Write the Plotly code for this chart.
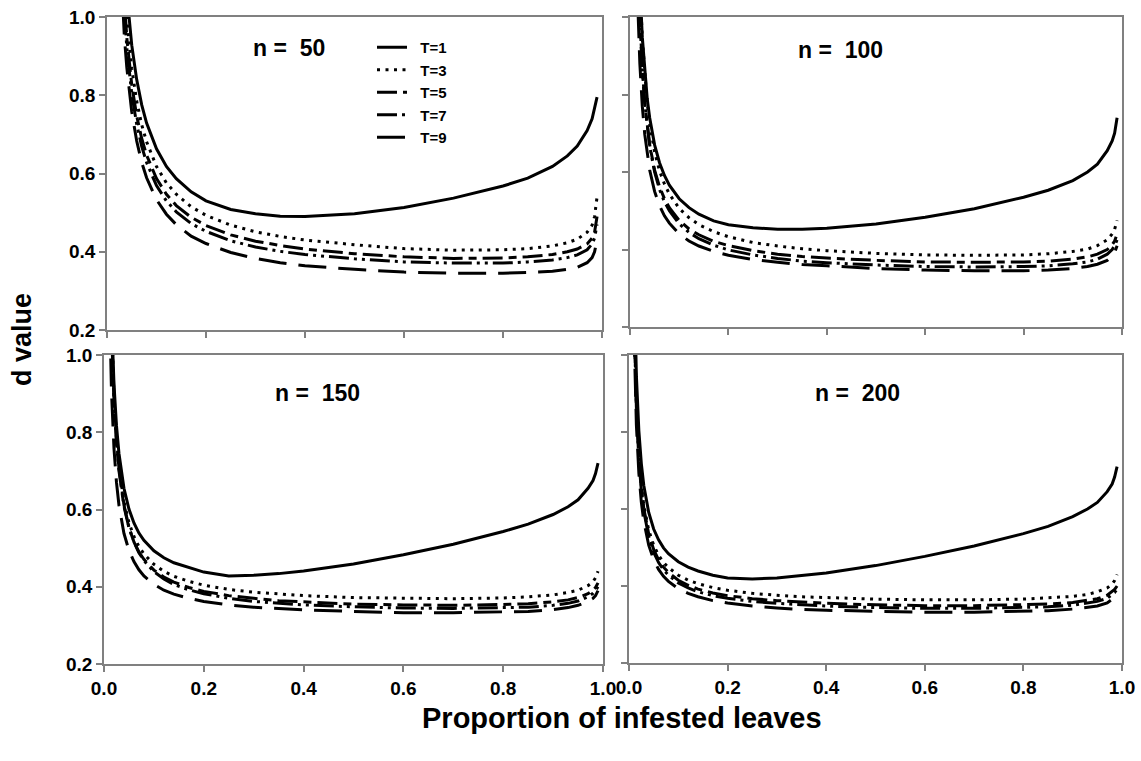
import plotly.graph_objects as go

# ---------------- data ----------------
p = [0.01, 0.015, 0.02, 0.025, 0.03, 0.035, 0.04, 0.05, 0.06, 0.07, 0.08, 0.10, 0.12, 0.14,
     0.17, 0.20, 0.25, 0.30, 0.35, 0.40, 0.50, 0.60, 0.70, 0.80, 0.85, 0.90, 0.93, 0.95,
     0.97, 0.98, 0.985, 0.99]

series_names = ["T=1", "T=3", "T=5", "T=7", "T=9"]
panel_titles = ["n\u00a0=\u00a0\u00a050", "n\u00a0=\u00a0\u00a0100", "n\u00a0=\u00a0\u00a0150", "n\u00a0=\u00a0\u00a0200"]

# n = 50
n50_T1 = [3.05, 2.17, 1.72, 1.46, 1.28, 1.156, 1.061, 0.928, 0.84, 0.776, 0.729, 0.663, 0.618, 0.587,
          0.553, 0.53, 0.508, 0.497, 0.491, 0.49, 0.497, 0.513, 0.537, 0.568, 0.588, 0.618, 0.645, 0.67,
          0.71, 0.74, 0.765, 0.795]
n50_T3 = [2.87, 2.035, 1.618, 1.368, 1.201, 1.082, 0.993, 0.868, 0.785, 0.725, 0.681, 0.618, 0.576, 0.547,
          0.515, 0.493, 0.468, 0.451, 0.439, 0.43, 0.418, 0.408, 0.404, 0.405, 0.408, 0.415, 0.423, 0.432,
          0.45, 0.468, 0.49, 0.54]
n50_T5 = [2.75, 1.947, 1.547, 1.307, 1.147, 1.033, 0.947, 0.827, 0.747, 0.69, 0.647, 0.587, 0.547, 0.518,
          0.488, 0.467, 0.443, 0.427, 0.416, 0.407, 0.395, 0.387, 0.383, 0.384, 0.387, 0.393, 0.40, 0.407,
          0.42, 0.435, 0.45, 0.49]
n50_T7 = [2.68, 1.901, 1.509, 1.274, 1.117, 1.005, 0.922, 0.804, 0.726, 0.67, 0.628, 0.569, 0.53, 0.502,
          0.472, 0.452, 0.428, 0.412, 0.401, 0.393, 0.382, 0.374, 0.371, 0.371, 0.374, 0.379, 0.385, 0.392,
          0.405, 0.42, 0.435, 0.47]
n50_T9 = [2.56, 1.808, 1.433, 1.208, 1.058, 0.951, 0.871, 0.758, 0.683, 0.629, 0.589, 0.533, 0.496, 0.469,
          0.44, 0.421, 0.398, 0.383, 0.372, 0.364, 0.355, 0.348, 0.345, 0.345, 0.347, 0.35, 0.355, 0.36,
          0.372, 0.385, 0.40, 0.43]

# n = 100
n100_T1 = [1.782, 1.319, 1.087, 0.948, 0.855, 0.789, 0.74, 0.67, 0.624, 0.591, 0.566, 0.531, 0.508, 0.491,
           0.474, 0.464, 0.456, 0.452, 0.452, 0.455, 0.466, 0.483, 0.505, 0.535, 0.553, 0.578, 0.60, 0.62,
           0.655, 0.68, 0.70, 0.74]
n100_T3 = [1.82, 1.333, 1.09, 0.944, 0.847, 0.777, 0.725, 0.652, 0.603, 0.569, 0.543, 0.506, 0.482, 0.464,
           0.446, 0.433, 0.418, 0.409, 0.402, 0.397, 0.39, 0.386, 0.385, 0.386, 0.389, 0.395, 0.401, 0.41,
           0.425, 0.44, 0.452, 0.475]
n100_T5 = [1.645, 1.212, 0.995, 0.865, 0.778, 0.716, 0.67, 0.605, 0.562, 0.531, 0.508, 0.475, 0.453, 0.438,
           0.421, 0.41, 0.397, 0.388, 0.382, 0.378, 0.372, 0.368, 0.367, 0.368, 0.37, 0.375, 0.381, 0.388,
           0.40, 0.412, 0.422, 0.44]
n100_T7 = [1.672, 1.225, 1.002, 0.868, 0.779, 0.715, 0.667, 0.60, 0.555, 0.523, 0.50, 0.466, 0.444, 0.428,
           0.411, 0.399, 0.386, 0.377, 0.37, 0.366, 0.36, 0.356, 0.355, 0.356, 0.358, 0.363, 0.368, 0.375,
           0.388, 0.40, 0.41, 0.425]
n100_T9 = [1.43, 1.063, 0.88, 0.77, 0.697, 0.644, 0.605, 0.55, 0.513, 0.487, 0.468, 0.44, 0.422, 0.409,
           0.395, 0.385, 0.374, 0.367, 0.361, 0.358, 0.351, 0.347, 0.345, 0.345, 0.347, 0.351, 0.356, 0.362,
           0.372, 0.383, 0.392, 0.41]

# n = 150
n150_T1 = [1.465, 1.105, 0.925, 0.817, 0.745, 0.694, 0.655, 0.601, 0.565, 0.539, 0.52, 0.493, 0.475, 0.462,
           0.449, 0.438, 0.428, 0.43, 0.434, 0.441, 0.459, 0.483, 0.51, 0.543, 0.562, 0.587, 0.607, 0.625,
           0.655, 0.675, 0.693, 0.72]
n150_T3 = [1.43, 1.07, 0.89, 0.782, 0.71, 0.659, 0.62, 0.566, 0.53, 0.504, 0.485, 0.458, 0.44, 0.427,
           0.414, 0.404, 0.393, 0.386, 0.381, 0.377, 0.372, 0.37, 0.369, 0.371, 0.374, 0.379, 0.385, 0.391,
           0.403, 0.413, 0.423, 0.44]
n150_T5 = [1.433, 1.066, 0.883, 0.773, 0.70, 0.647, 0.608, 0.553, 0.516, 0.49, 0.471, 0.443, 0.425, 0.412,
           0.398, 0.388, 0.377, 0.37, 0.364, 0.361, 0.355, 0.353, 0.352, 0.354, 0.356, 0.361, 0.366, 0.372,
           0.382, 0.391, 0.398, 0.41]
n150_T7 = [1.474, 1.091, 0.899, 0.784, 0.707, 0.653, 0.612, 0.554, 0.516, 0.488, 0.468, 0.439, 0.42, 0.406,
           0.392, 0.382, 0.37, 0.362, 0.357, 0.353, 0.348, 0.345, 0.344, 0.345, 0.347, 0.352, 0.357, 0.363,
           0.374, 0.383, 0.39, 0.40]
n150_T9 = [1.198, 0.905, 0.758, 0.67, 0.611, 0.569, 0.538, 0.494, 0.465, 0.444, 0.428, 0.406, 0.391, 0.381,
           0.37, 0.362, 0.353, 0.347, 0.343, 0.34, 0.336, 0.333, 0.333, 0.334, 0.336, 0.341, 0.346, 0.352,
           0.362, 0.37, 0.377, 0.39]

# n = 200
n200_T1 = [1.228, 0.945, 0.803, 0.718, 0.661, 0.621, 0.591, 0.548, 0.52, 0.499, 0.484, 0.463, 0.449, 0.439,
           0.428, 0.421, 0.418, 0.421, 0.427, 0.434, 0.453, 0.477, 0.504, 0.536, 0.555, 0.58, 0.60, 0.617,
           0.645, 0.665, 0.683, 0.71]
n200_T3 = [1.13, 0.87, 0.74, 0.662, 0.61, 0.573, 0.545, 0.506, 0.48, 0.461, 0.448, 0.428, 0.415, 0.406,
           0.396, 0.389, 0.381, 0.376, 0.372, 0.37, 0.366, 0.364, 0.364, 0.366, 0.369, 0.373, 0.378, 0.385,
           0.395, 0.405, 0.414, 0.43]
n200_T5 = [1.135, 0.868, 0.735, 0.655, 0.602, 0.564, 0.535, 0.495, 0.468, 0.449, 0.435, 0.415, 0.402, 0.392,
           0.382, 0.375, 0.367, 0.362, 0.358, 0.355, 0.351, 0.349, 0.349, 0.351, 0.353, 0.357, 0.362, 0.367,
           0.376, 0.385, 0.391, 0.40]
n200_T7 = [1.128, 0.861, 0.728, 0.648, 0.595, 0.557, 0.528, 0.488, 0.461, 0.442, 0.428, 0.408, 0.395, 0.385,
           0.375, 0.368, 0.36, 0.355, 0.351, 0.348, 0.344, 0.342, 0.342, 0.344, 0.346, 0.35, 0.355, 0.36,
           0.368, 0.377, 0.383, 0.392]
n200_T9 = [1.068, 0.818, 0.693, 0.618, 0.568, 0.532, 0.506, 0.468, 0.443, 0.425, 0.412, 0.393, 0.381, 0.372,
           0.362, 0.356, 0.348, 0.343, 0.339, 0.337, 0.334, 0.332, 0.332, 0.334, 0.336, 0.34, 0.344, 0.348,
           0.356, 0.364, 0.37, 0.38]

x_ticks = [0.0, 0.2, 0.4, 0.6, 0.8, 1.0]
y_ticks = [0.2, 0.4, 0.6, 0.8, 1.0]

panels = [
    [n50_T1, n50_T3, n50_T5, n50_T7, n50_T9],
    [n100_T1, n100_T3, n100_T5, n100_T7, n100_T9],
    [n150_T1, n150_T3, n150_T5, n150_T7, n150_T9],
    [n200_T1, n200_T3, n200_T5, n200_T7, n200_T9],
]

# ---------------- styling ----------------
W, H = 1141, 761
FONT = "Arial, Liberation Sans, sans-serif"
dashes = ["solid", "3px,5.5px", "20px,6px,8px,6px", "20px,5px,3px,5px,3px,5px", "28px,12px"]


def px(xp):
    return xp / W


def py(yp):
    return 1 - yp / H


# plot areas in screen pixels: (left, right, top, bottom)
areas = [(107, 602, 17, 330), (630, 1122, 17, 327), (104, 603, 355, 664), (629, 1122, 355, 663)]

fig = go.Figure()
for k, series in enumerate(panels):
    ax = "" if k == 0 else str(k + 1)
    for j, vals in enumerate(series):
        fig.add_trace(go.Scatter(
            x=p, y=vals, mode="lines", name="\u00a0\u00a0" + series_names[j],
            xaxis="x" + ax, yaxis="y" + ax,
            line=dict(color="black", width=3, dash=dashes[j]),
            showlegend=(k == 0), legendgroup=series_names[j],
        ))

axis_common = dict(showgrid=False, zeroline=False, showline=True, linecolor="#808080",
                   linewidth=1.5, mirror=True, ticks="outside", ticklen=6, tickwidth=1.5,
                   tickcolor="#808080", automargin=False, ticklabeloverflow="allow",
                   tickfont=dict(family=FONT, size=19, color="black", weight="bold"))
layout = {}
for k, (l, r, t, b) in enumerate(areas):
    ax = "" if k == 0 else str(k + 1)
    layout["xaxis" + ax] = dict(axis_common, domain=[px(l), px(r)], range=[0, 1],
                                tickvals=x_ticks, tickformat=".1f",
                                showticklabels=(k >= 2), anchor="y" + ax)
    layout["yaxis" + ax] = dict(axis_common, domain=[py(b), py(t)], range=[0.2, 1.0],
                                tickvals=y_ticks, tickformat=".1f",
                                showticklabels=(k % 2 == 0), anchor="x" + ax)

title_pos = [(289, 48), (840, 50), (317, 393), (857, 393)]
annotations = []
for (tx, ty), txt in zip(title_pos, panel_titles):
    annotations.append(dict(x=px(tx), y=py(ty), xref="paper", yref="paper", text=txt,
                            showarrow=False, xanchor="center", yanchor="middle",
                            font=dict(family=FONT, size=23, color="black", weight="bold")))
annotations.append(dict(x=px(22), y=py(340), xref="paper", yref="paper", text="d value",
                        textangle=-90, showarrow=False, xanchor="center", yanchor="middle",
                        font=dict(family=FONT, size=27, color="black", weight="bold")))
annotations.append(dict(x=px(622), y=py(718), xref="paper", yref="paper",
                        text="Proportion of infested leaves", showarrow=False,
                        xanchor="center", yanchor="middle",
                        font=dict(family=FONT, size=29, color="black", weight="bold")))

fig.update_layout(
    width=W, height=H, margin=dict(l=0, r=0, t=0, b=0, autoexpand=False),
    paper_bgcolor="white", plot_bgcolor="white",
    annotations=annotations,
    legend=dict(x=px(372), y=py(31), xanchor="left", yanchor="top",
                bgcolor="rgba(0,0,0,0)", borderwidth=0, traceorder="grouped",
                tracegroupgap=0,
                font=dict(family=FONT, size=15, color="black", weight="bold")),
    **layout,
)

fig.write_html("out.html", config={"displayModeBar": False},
               post_script="document.body.style.margin='0';document.body.style.overflow='hidden';")
